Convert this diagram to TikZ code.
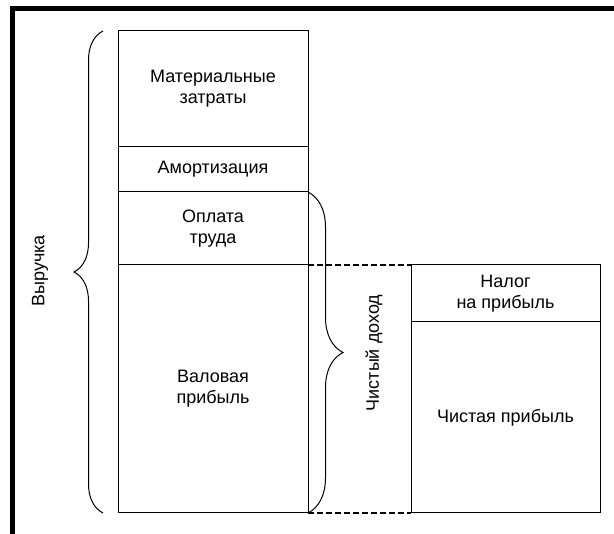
\documentclass[tikz,border=0pt]{standalone}
\usepackage{fontspec}
\setmainfont{Liberation Sans}
\usetikzlibrary{decorations.pathreplacing}

\tikzset{
  block/.style={draw, line width=1pt, minimum width=190pt, align=center, inner sep=0pt, outer sep=0pt},
  curly/.style={decorate, decoration={brace, amplitude=#1}, line width=1pt},
  gap/.style={line width=1.6pt, dash pattern=on 6pt off 3pt},
}

\begin{document}
\begin{tikzpicture}[x=1pt, y=-1pt, font=\fontsize{18}{21}\selectfont]
\useasboundingbox (0,0) rectangle (614,534);

\draw[line width=5pt] (12.5,534) -- (12.5,9) -- (614,9); % Frame

% Revenue column
\node [block, minimum height=116pt] (mat) at (213,89) {Материальные\\затраты};
\node [block, minimum height=45pt, anchor=north] (amort) at (mat.south) {Амортизация};
\node [block, minimum height=73pt, anchor=north] (pay) at (amort.south) {Оплата\\труда};
\node [block, minimum height=248pt, anchor=north] (gross) at (pay.south) {Валовая\\прибыль};

% Net income column
\node [block, minimum width=189pt, minimum height=57pt] (tax) at (505.5,293.5) {Налог\\на прибыль};
\node [block, minimum width=189pt, minimum height=191pt, anchor=north] (net) at (tax.south) {Чистая прибыль};

\draw[gap] (gross.north east) -- (tax.north west);
\draw[gap] (gross.south east) -- (net.south west);

% Braces
\draw[curly=29pt] ([xshift=-15pt]gross.south west) -- ([xshift=-15pt]mat.north west);
\node [rotate=90] (rev) at (40,271) {Выручка};

\draw[curly=35pt] (pay.north east) -- (gross.south east);
\node [rotate=90] (netinc) at (374,353) {Чистый доход};

\end{tikzpicture}
\end{document}
